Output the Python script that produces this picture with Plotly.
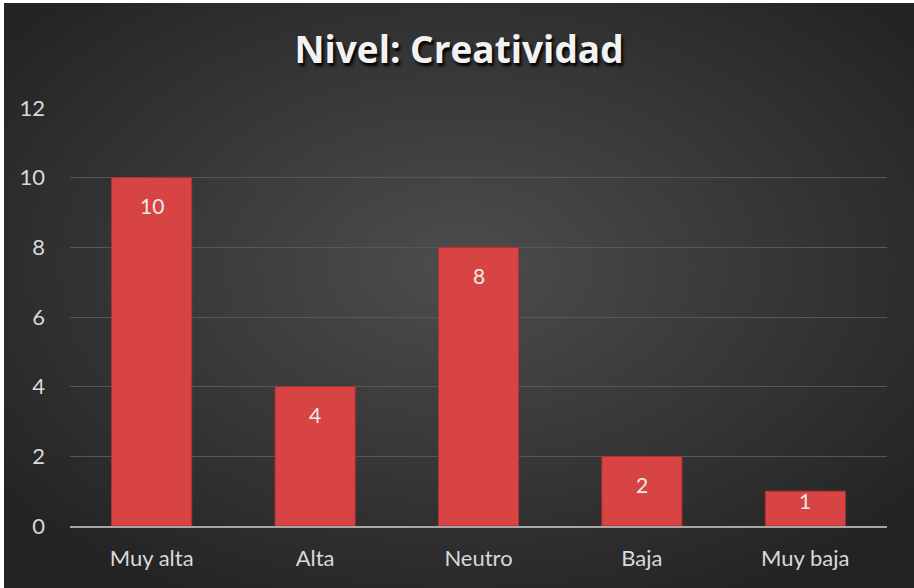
import plotly.graph_objects as go
import base64

categories = ["Muy alta", "Alta", "Neutro", "Baja", "Muy baja"]
values = [10, 4, 8, 2, 1]
y_ticks = [0, 2, 4, 6, 8, 10, 12]
title_text = "Nivel: Creatividad"

W, H = 910, 585
ml, mr, mt, mb = 66, 27, 105, 62
pw, ph = W - ml - mr, H - mt - mb
FONT = "Lato, Open Sans, sans-serif"
Y_MAX = 12

svg = f'''<svg xmlns="http://www.w3.org/2000/svg" width="{W}" height="{H}">
<defs><radialGradient id="g" cx="50%" cy="45%" r="65%">
<stop offset="0%" stop-color="#4d4d4d"/><stop offset="100%" stop-color="#232323"/>
</radialGradient></defs>
<rect width="{W}" height="{H}" fill="url(#g)"/></svg>'''
bg = "data:image/svg+xml;base64," + base64.b64encode(svg.encode()).decode()

fig = go.Figure()
fig.add_trace(go.Bar(
    x=categories, y=values,
    marker=dict(color="#d84343", line=dict(color="#b03232", width=1)),
    width=0.49,
    hoverinfo="x+y",
))

for c, v in zip(categories, values):
    bar_px = v * ph / Y_MAX
    shift = -min(28, bar_px - 26)
    fig.add_annotation(x=c, y=v, text=str(v), showarrow=False, yshift=shift,
                       font=dict(family=FONT, size=21, color="#ebebeb"))

fig.update_layout(
    width=W, height=H,
    margin=dict(l=ml, r=mr, t=mt, b=mb),
    paper_bgcolor="#2b2b2b",
    plot_bgcolor="rgba(0,0,0,0)",
    images=[dict(source=bg, xref="paper", yref="paper",
                 x=-ml / pw, y=1 + mt / ph, sizex=W / pw, sizey=H / ph,
                 sizing="stretch", xanchor="left", yanchor="top", layer="below")],
    title=dict(text=f"<b>{title_text}</b>", x=0.5, xanchor="center", y=1 - 47 / H, yanchor="middle",
               font=dict(family="Open Sans, Lato, sans-serif", size=37, color="#f2f2f2",
                         shadow="2px 3px 3px #000")),
    showlegend=False,
    bargap=0.51,
)
fig.update_xaxes(showgrid=False, showline=True, linecolor="#a6a6a6", linewidth=2,
                 ticks="", tickfont=dict(family=FONT, size=22, color="#d9d9d9"),
                 ticklabelstandoff=12)
fig.update_yaxes(range=[0, Y_MAX], tickvals=y_ticks, showgrid=True, gridcolor="#575757", gridwidth=1,
                 zeroline=False, showline=False, ticks="",
                 tickfont=dict(family=FONT, size=22, color="#d9d9d9"),
                 ticklabelstandoff=24)

fig.write_html("out.html",
               post_script="document.body.style.margin='3px 0 0 4px';document.body.style.overflow='hidden';")
